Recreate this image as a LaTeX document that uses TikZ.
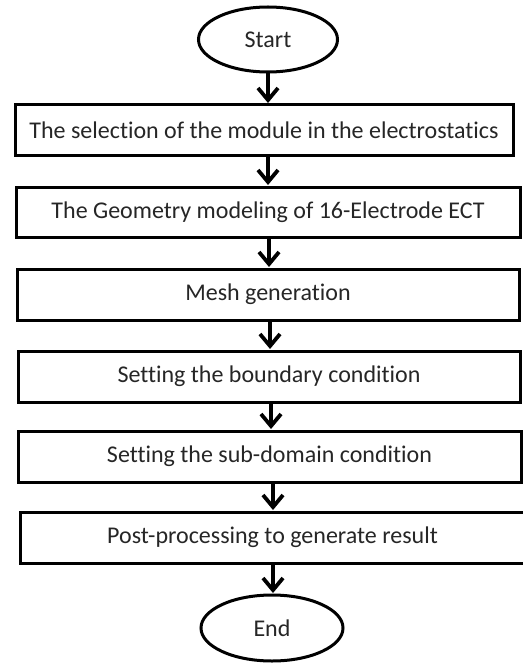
\documentclass[tikz,border=0pt]{standalone}
\usepackage{fontspec}
\setmainfont{Carlito}[Ligatures=NoCommon]
\usetikzlibrary{arrows.meta,shapes.geometric}
\tikzset{
  stepbox/.style={draw=black, line width=3pt, fill=white, rectangle, inner sep=0pt,
    minimum height=51pt, font=\fontsize{24}{28}\selectfont, text=black!85},
  term/.style={draw=black, line width=3pt, fill=white, ellipse, inner sep=0pt,
    font=\fontsize{24}{28}\selectfont, text=black!85},
  arr/.style={line width=3.2pt, -{Straight Barb[length=12pt,width=20pt,line width=3.8pt]}, shorten >=0.5pt}
}
\begin{document}
\begin{tikzpicture}[x=1pt,y=-1pt]
\useasboundingbox (0,0) rectangle (522,663);
\node[term, minimum width=139pt, minimum height=65pt] (st) at (268,39.5) {Start};
\node[stepbox, minimum width=498pt] (b1) at (264,130.5) {The selection of the module in the electrostatics};
\node[stepbox, minimum width=504pt, minimum height=50pt] (b2) at (268,212) {The Geometry modeling of 16-Electrode ECT};
\node[stepbox, minimum width=502pt] (b3) at (268,294.5) {Mesh generation};
\node[stepbox, minimum width=502pt] (b4) at (269,376.5) {Setting the boundary condition};
\node[stepbox, minimum width=503pt] (b5) at (269.5,456.5) {Setting the sub-domain condition};
\node[stepbox, minimum width=505pt] (b6) at (272.5,537.5) {Post-processing to generate result};
\node[term, minimum width=142pt, minimum height=66pt] (en) at (272,628) {End};
\coordinate (x1) at (268,0);
\coordinate (x2) at (268,0);
\coordinate (x3) at (269,0);
\coordinate (x4) at (270,0);
\coordinate (x5) at (271,0);
\coordinate (x6) at (273,0);
\coordinate (x7) at (273,0);
\draw[arr] (st.south -| x1) -- (b1.north -| x1);
\draw[arr] (b1.south -| x2) -- (b2.north -| x2);
\draw[arr] (b2.south -| x3) -- (b3.north -| x3);
\draw[arr] (b3.south -| x4) -- (b4.north -| x4);
\draw[arr] (b4.south -| x5) -- (b5.north -| x5);
\draw[arr] (b5.south -| x6) -- (b6.north -| x6);
\draw[arr] (b6.south -| x7) -- (en.north -| x7);
\end{tikzpicture}
\end{document}
